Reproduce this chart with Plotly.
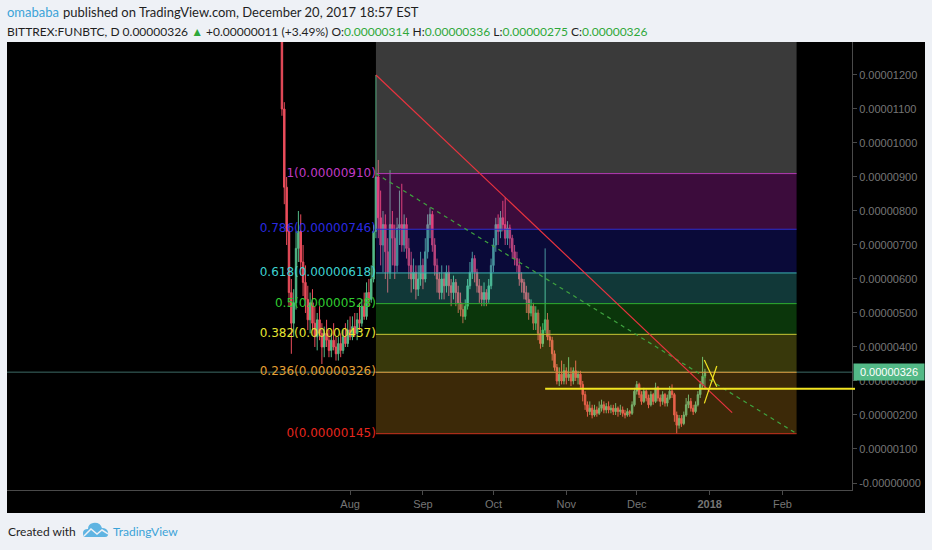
import plotly.graph_objects as go
from datetime import date, timedelta

# ---- FUN/BTC daily candles, prices in satoshi (1e-8 BTC) ----
first_day = date(2017, 7, 3)

opens = [
    1800, 1100, 870, 740, 560, 470, 530, 690, 740, 650,
    590, 540, 480, 530, 470, 430, 480, 440, 400, 440,
    420, 390, 420, 400, 380, 410, 390, 430, 410, 450,
    430, 460, 440, 480, 470, 520, 490, 560, 540, 600,
    740, 900, 780, 700, 760, 680, 620, 760, 720, 640,
    750, 760, 700, 760, 690, 640, 600, 620, 570, 600,
    640, 600, 680, 760, 790, 700, 640, 600, 560, 600,
    580, 620, 580, 560, 590, 560, 530, 510, 490, 520,
    580, 620, 660, 620, 580, 560, 540, 560, 540, 580,
    640, 700, 760, 740, 780, 760, 720, 750, 720, 680,
    660, 640, 600, 590, 560, 540, 500, 520, 470, 500,
    440, 410, 450, 480, 430, 420, 380, 340, 300, 320,
    300, 330, 310, 320, 300, 330, 310, 320, 290, 260,
    230, 210, 220, 200, 215, 205, 220, 230, 215, 225,
    215, 220, 210, 220, 210, 215, 205, 200, 210, 205,
    230, 270, 290, 260, 240, 270, 250, 230, 260, 240,
    280, 250, 240, 260, 235, 250, 270, 260, 200, 170,
    190, 175, 200, 230, 240, 220, 210, 230, 260, 290,
    314,
]
highs = [
    1950, 1120, 900, 760, 600, 570, 740, 800, 790, 700,
    640, 580, 560, 570, 520, 500, 520, 470, 460, 480,
    450, 440, 470, 430, 430, 440, 450, 470, 480, 490,
    490, 500, 500, 530, 540, 560, 590, 600, 640, 760,
    1200, 950, 860, 800, 790, 720, 920, 800, 760, 780,
    860, 880, 790, 780, 720, 680, 660, 640, 640, 680,
    660, 720, 790, 810, 800, 720, 660, 620, 640, 620,
    640, 640, 600, 610, 600, 580, 560, 530, 540, 600,
    650, 680, 670, 630, 600, 580, 590, 570, 600, 660,
    720, 780, 790, 800, 830, 840, 770, 760, 730, 700,
    680, 660, 620, 600, 580, 560, 540, 530, 520, 510,
    460, 470, 690, 500, 450, 430, 390, 350, 340, 360,
    350, 340, 370, 340, 340, 360, 330, 330, 300, 270,
    240, 240, 230, 230, 225, 240, 245, 240, 235, 240,
    230, 230, 235, 225, 230, 225, 215, 220, 215, 240,
    280, 300, 295, 270, 280, 275, 260, 270, 265, 295,
    285, 260, 270, 265, 260, 285, 290, 265, 210, 200,
    200, 210, 250, 260, 250, 230, 240, 270, 300, 371,
    336,
]
lows = [
    1080, 820, 700, 520, 380, 430, 510, 650, 610, 550,
    500, 450, 440, 450, 400, 390, 420, 350, 370, 400,
    370, 370, 390, 360, 360, 370, 380, 400, 400, 420,
    420, 430, 420, 450, 460, 480, 480, 520, 530, 590,
    720, 720, 640, 620, 600, 560, 600, 640, 600, 620,
    700, 680, 680, 660, 600, 560, 570, 540, 550, 580,
    570, 590, 660, 720, 680, 610, 560, 540, 540, 540,
    560, 550, 520, 540, 520, 500, 490, 470, 480, 510,
    570, 600, 590, 560, 530, 520, 520, 520, 530, 570,
    620, 680, 700, 720, 740, 700, 700, 690, 660, 640,
    620, 580, 560, 540, 500, 480, 490, 450, 450, 420,
    395, 400, 440, 420, 400, 360, 330, 290, 285, 290,
    290, 290, 300, 285, 290, 300, 290, 280, 240, 215,
    195, 200, 190, 195, 195, 200, 210, 205, 205, 205,
    205, 200, 200, 195, 200, 195, 190, 195, 195, 200,
    225, 260, 250, 230, 235, 240, 220, 225, 230, 235,
    240, 225, 230, 225, 225, 245, 250, 180, 145, 160,
    165, 170, 195, 220, 210, 200, 205, 225, 250, 280,
    275,
]
closes = [
    1100, 870, 740, 560, 470, 530, 690, 740, 650, 590,
    540, 480, 530, 470, 430, 480, 440, 400, 440, 420,
    390, 420, 400, 380, 410, 390, 430, 410, 450, 430,
    460, 440, 480, 470, 520, 490, 560, 540, 600, 740,
    900, 780, 700, 760, 680, 620, 760, 720, 640, 750,
    760, 700, 760, 690, 640, 600, 620, 570, 600, 640,
    600, 680, 760, 790, 700, 640, 600, 560, 600, 580,
    620, 580, 560, 590, 560, 530, 510, 490, 520, 580,
    620, 660, 620, 580, 560, 540, 560, 540, 580, 640,
    700, 760, 740, 780, 760, 720, 750, 720, 680, 660,
    640, 600, 590, 560, 540, 500, 520, 470, 500, 440,
    410, 450, 480, 430, 420, 380, 340, 300, 320, 300,
    330, 310, 320, 300, 330, 310, 320, 290, 260, 230,
    210, 220, 200, 215, 205, 220, 230, 215, 225, 215,
    220, 210, 220, 210, 215, 205, 200, 210, 205, 230,
    270, 290, 260, 240, 270, 250, 230, 260, 240, 280,
    250, 240, 260, 235, 250, 270, 260, 200, 170, 190,
    175, 200, 230, 240, 220, 210, 230, 260, 290, 314,
    326,
]

SAT = 1e-8
dates = [first_day + timedelta(days=i) for i in range(len(closes))]

# ---- Fibonacci retracement drawing ----
fib_high, fib_low = 910, 145
fib_start, fib_end = "2017-08-12", "2018-02-07"
fib_ratios = [1.618, 1, 0.786, 0.618, 0.5, 0.382, 0.236, 0]
fib_names = ["1.618", "1", "0.786", "0.618", "0.5", "0.382", "0.236", "0"]
fib_line_colors = ["#808080", "#b23bb2", "#2f2fd0", "#3cb4b4", "#2fae2f", "#c8c836", "#d4943a", "#c8321e"]
fib_text_colors = ["#9a9a9a", "#c03ac6", "#2a2ae0", "#3ed2d2", "#30cc30", "#e6e633", "#e6a033", "#e6261e"]
fib_fills = ["rgba(128,128,128,0.45)", "rgba(200,40,200,0.30)", "rgba(40,40,220,0.26)",
             "rgba(60,200,200,0.28)", "rgba(40,200,40,0.27)", "rgba(200,200,40,0.28)",
             "rgba(220,150,30,0.27)"]

# ---- trend lines and marks ----
trend_x = ["2017-08-12", "2018-01-10 14:00"]
trend_y = [1200, 207]
support_start, support_level = "2017-10-23", 277
cross_a = (["2017-12-29 18:00", "2018-01-04 01:00"], [362, 283])
cross_b = (["2018-01-04 01:00", "2017-12-29 18:00"], [344, 234])
last_price = 326

month_ticks = ["2017-08-01", "2017-09-01", "2017-10-01", "2017-11-01", "2017-12-01", "2018-01-01", "2018-02-01"]
month_text = ["Aug", "Sep", "Oct", "Nov", "Dec", "<b>2018</b>", "Feb"]
price_ticks = list(range(0, 1300, 100))

# plot box in pixels
L, R, T, B = 7, 852, 42, 490


def px(x):
    return (x - L) / (R - L)


def py(y):
    return (B - y) / (B - T)


fig = go.Figure()

# fib labels sit behind the candles (the 1.618 level lies above the visible range)
fib_vals = [fib_low + r * (fib_high - fib_low) for r in fib_ratios]
fig.add_trace(go.Scatter(
    x=[fib_start] * (len(fib_vals) - 1),
    y=[v * SAT for v in fib_vals[1:]],
    mode="text",
    text=[f"{n}({int(v + 0.5) * SAT:.8f})" for n, v in zip(fib_names[1:], fib_vals[1:])],
    textposition="middle left",
    textfont=dict(family="DejaVu Sans", size=12, color=fib_text_colors[1:]),
    hoverinfo="skip",
    cliponaxis=True,
))

fig.add_trace(go.Candlestick(
    x=dates,
    open=[v * SAT for v in opens],
    high=[v * SAT for v in highs],
    low=[v * SAT for v in lows],
    close=[v * SAT for v in closes],
    increasing=dict(line=dict(color="#53b987", width=1), fillcolor="#53b987"),
    decreasing=dict(line=dict(color="#eb4d5c", width=1), fillcolor="#eb4d5c"),
    whiskerwidth=0,
    hoverinfo="skip",
))

shapes = []
# chart panel background
shapes.append(dict(type="rect", xref="paper", yref="paper", x0=px(7), x1=px(925), y0=py(513), y1=py(42),
                   fillcolor="#000000", line=dict(width=0), layer="below"))
# last price line
shapes.append(dict(type="line", xref="paper", yref="y", x0=0, x1=1, y0=last_price * SAT, y1=last_price * SAT,
                   line=dict(color="#3d6b66", width=1), layer="below"))

# fib zones and level lines
for i in range(len(fib_vals) - 1):
    shapes.append(dict(type="rect", xref="x", yref="y", x0=fib_start, x1=fib_end,
                       y0=fib_vals[i + 1] * SAT, y1=fib_vals[i] * SAT,
                       fillcolor=fib_fills[i], line=dict(width=0), layer="above"))
for v, c in zip(fib_vals, fib_line_colors):
    shapes.append(dict(type="line", xref="x", yref="y", x0=fib_start, x1=fib_end, y0=v * SAT, y1=v * SAT,
                       line=dict(color=c, width=1), layer="above"))
# fib diagonal
shapes.append(dict(type="line", xref="x", yref="y", x0=fib_start, x1=fib_end,
                   y0=fib_high * SAT, y1=fib_low * SAT,
                   line=dict(color="#3fa33f", width=1.2, dash="4px,4px"), layer="above"))
# descending trend line
shapes.append(dict(type="line", xref="x", yref="y", x0=trend_x[0], x1=trend_x[1],
                   y0=trend_y[0] * SAT, y1=trend_y[1] * SAT,
                   line=dict(color="#e8333f", width=1.2), layer="above"))
# horizontal support
shapes.append(dict(type="line", xref="x", yref="y", x0=support_start, x1="2018-03-03",
                   y0=support_level * SAT, y1=support_level * SAT,
                   line=dict(color="#f2e422", width=2), layer="above"))
shapes.append(dict(type="line", xref="paper", yref="y", x0=1, x1=px(855),
                   y0=support_level * SAT, y1=support_level * SAT,
                   line=dict(color="#f2e422", width=2), layer="above"))
# breakout cross
for xs, ys in (cross_a, cross_b):
    shapes.append(dict(type="line", xref="x", yref="y", x0=xs[0], x1=xs[1],
                       y0=ys[0] * SAT, y1=ys[1] * SAT,
                       line=dict(color="#f2e422", width=1.2), layer="above"))


# TradingView logo in the footer
def pt(x, y):
    return f"{px(x):.5f},{py(y):.5f}"


cloud = (f"M {pt(85, 537)} L {pt(105, 537)} Q {pt(109, 537)} {pt(108, 532)} "
         f"Q {pt(107, 528)} {pt(102, 528)} Q {pt(100, 522)} {pt(93, 523)} "
         f"Q {pt(88, 524)} {pt(88, 529)} Q {pt(83, 529)} {pt(83, 533)} Q {pt(83, 537)} {pt(85, 537)} Z")
shapes.append(dict(type="path", xref="paper", yref="paper", path=cloud,
                   fillcolor="#5fb4e2", line=dict(width=0), layer="above"))
shapes.append(dict(type="path", xref="paper", yref="paper",
                   path=f"M {pt(84, 536)} L {pt(91, 529)} L {pt(97, 534)} L {pt(102, 530)} L {pt(108, 534)}",
                   line=dict(color="#eef1f6", width=1.5), layer="above"))

green = "#2ea83a"
annotations = [
    dict(xref="paper", yref="paper", x=px(5), y=py(12), xanchor="left", yanchor="middle", showarrow=False,
         text="omababa", font=dict(family="Lato", size=13, color="#3ba3d8")),
    dict(xref="paper", yref="paper", x=px(61), y=py(12), xanchor="left", yanchor="middle", showarrow=False,
         text="published on TradingView.com, December 20, 2017 18:57 EST",
         font=dict(family="Lato", size=13, color="#1f1f1f")),
    dict(xref="paper", yref="paper", x=px(5), y=py(32), xanchor="left", yanchor="middle", showarrow=False,
         text=(f'BITTREX:FUNBTC, D 0.00000326 <span style="color:{green}">▲</span> +0.00000011 (+3.49%) '
               f'O:<span style="color:{green}">0.00000314</span> H:<span style="color:{green}">0.00000336</span> '
               f'L:<span style="color:{green}">0.00000275</span> C:<span style="color:{green}">0.00000326</span>'),
         font=dict(family="Lato", size=12, color="#1f1f1f")),
    dict(xref="paper", yref="paper", x=px(6), y=py(531), xanchor="left", yanchor="middle", showarrow=False,
         text="Created with", font=dict(family="Lato", size=12, color="#1f1f1f")),
    dict(xref="paper", yref="paper", x=px(111), y=py(531), xanchor="left", yanchor="middle", showarrow=False,
         text="TradingView", font=dict(family="Lato", size=12, color="#3ba3d8")),
    dict(xref="paper", yref="y", x=px(853), y=last_price * SAT, xanchor="left", yanchor="middle", showarrow=False,
         text=f"{last_price * SAT:.8f}", bgcolor="#53b987", width=68, height=14, borderpad=1, align="center",
         font=dict(family="Liberation Sans", size=11, color="#ffffff")),
]

price_text = [f"{v * SAT:.8f}" if v else "-0.00000000" for v in price_ticks]

fig.update_layout(
    width=932, height=550,
    margin=dict(l=L, r=932 - R, t=T, b=550 - B, pad=0),
    paper_bgcolor="#eef1f6", plot_bgcolor="#000000",
    showlegend=False,
    boxgap=0.12,
    shapes=shapes,
    annotations=annotations,
    xaxis=dict(type="date", range=["2017-03-08", "2018-03-02 14:00"],
               rangeslider=dict(visible=False), showgrid=False, zeroline=False,
               showline=True, linecolor="#4a4a4a", linewidth=1, ticks="outside", ticklen=4, tickcolor="#4a4a4a",
               tickvals=month_ticks, ticktext=month_text,
               tickfont=dict(family="Liberation Sans", size=11, color="#767676")),
    yaxis=dict(side="right", range=[-0.206e-6, 12.97e-6], showgrid=False, zeroline=False,
               showline=True, linecolor="#4a4a4a", linewidth=1, ticks="outside", ticklen=4, tickcolor="#4a4a4a",
               tickvals=[v * SAT for v in price_ticks], ticktext=price_text,
               tickfont=dict(family="Liberation Sans", size=11, color="#767676")),
)

fig.write_html("out.html")
